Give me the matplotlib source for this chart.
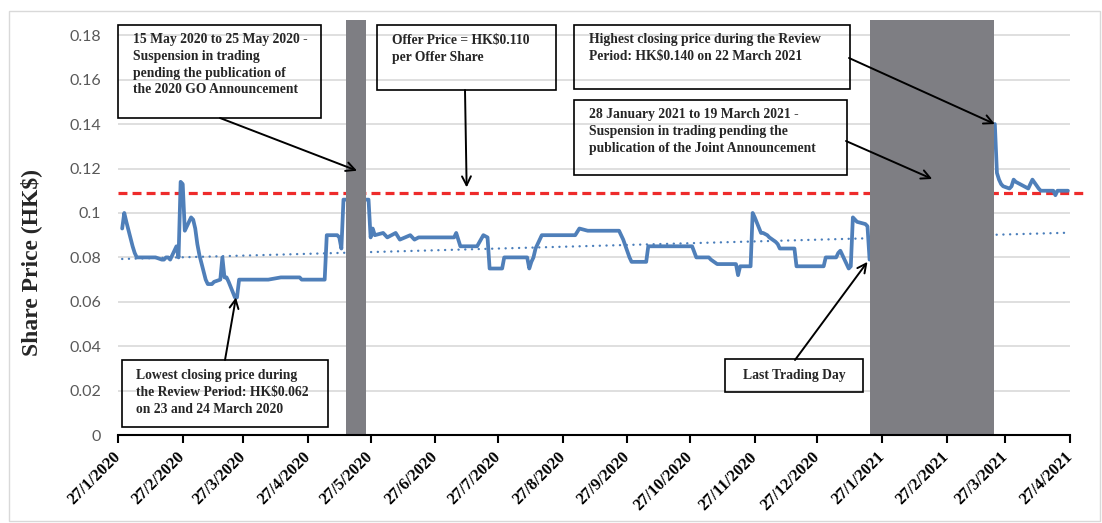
import matplotlib
matplotlib.use('Agg')
import matplotlib.pyplot as plt
from matplotlib.patches import Rectangle
import pandas as pd

W, H = 1102, 523

# ---------------- data ----------------
price_dates = [
    '2020-01-29', '2020-01-30', '2020-01-31', '2020-02-03', '2020-02-04', '2020-02-05',
    '2020-02-14', '2020-02-17', '2020-02-18', '2020-02-19', '2020-02-20', '2020-02-21',
    '2020-02-24', '2020-02-25', '2020-02-26', '2020-02-27', '2020-02-28', '2020-03-02',
    '2020-03-03', '2020-03-04', '2020-03-05', '2020-03-06', '2020-03-09', '2020-03-10',
    '2020-03-12', '2020-03-13', '2020-03-16', '2020-03-17', '2020-03-18', '2020-03-19',
    '2020-03-20', '2020-03-23', '2020-03-24', '2020-03-25', '2020-04-08', '2020-04-14',
    '2020-04-23', '2020-04-24', '2020-05-05', '2020-05-06', '2020-05-11', '2020-05-12',
    '2020-05-13', '2020-05-14',
    '2020-05-26', '2020-05-27', '2020-05-28', '2020-05-29', '2020-06-02', '2020-06-04',
    '2020-06-08', '2020-06-10', '2020-06-15', '2020-06-17', '2020-06-19', '2020-07-06',
    '2020-07-07', '2020-07-09', '2020-07-17', '2020-07-20', '2020-07-22', '2020-07-23',
    '2020-07-29', '2020-07-30', '2020-08-10', '2020-08-11', '2020-08-12', '2020-08-13',
    '2020-08-14', '2020-08-17', '2020-09-02', '2020-09-04', '2020-09-08', '2020-09-23',
    '2020-09-24', '2020-09-25', '2020-09-28', '2020-09-29', '2020-10-06', '2020-10-07',
    '2020-10-28', '2020-10-30', '2020-11-05', '2020-11-06', '2020-11-09', '2020-11-18',
    '2020-11-19', '2020-11-20', '2020-11-25', '2020-11-26', '2020-11-27', '2020-11-30',
    '2020-12-01', '2020-12-03', '2020-12-04', '2020-12-07', '2020-12-08', '2020-12-09',
    '2020-12-16', '2020-12-17', '2020-12-30', '2020-12-31', '2021-01-05', '2021-01-06',
    '2021-01-07', '2021-01-08', '2021-01-11', '2021-01-12', '2021-01-13', '2021-01-15',
    '2021-01-19', '2021-01-20', '2021-01-21',
    '2021-03-22', '2021-03-23', '2021-03-24', '2021-03-25', '2021-03-26', '2021-03-29',
    '2021-03-30', '2021-03-31', '2021-04-01', '2021-04-07', '2021-04-08', '2021-04-09',
    '2021-04-12', '2021-04-13', '2021-04-19', '2021-04-20', '2021-04-21', '2021-04-26',
]
price_values = [
    0.093, 0.100, 0.096, 0.085, 0.082, 0.080,
    0.080, 0.079, 0.079, 0.080, 0.080, 0.079,
    0.085, 0.080, 0.114, 0.113, 0.092, 0.098,
    0.097, 0.093, 0.086, 0.081, 0.070, 0.068,
    0.068, 0.069, 0.070, 0.080, 0.071, 0.071,
    0.069, 0.062, 0.062, 0.070, 0.070, 0.071,
    0.071, 0.070, 0.070, 0.090, 0.090, 0.089,
    0.084, 0.106,
    0.106, 0.089, 0.093, 0.090, 0.091, 0.089,
    0.091, 0.088, 0.090, 0.088, 0.089, 0.089,
    0.091, 0.085, 0.085, 0.090, 0.089, 0.075,
    0.075, 0.080, 0.080, 0.075, 0.078, 0.080,
    0.084, 0.090, 0.090, 0.093, 0.092, 0.092,
    0.090, 0.088, 0.080, 0.078, 0.078, 0.085,
    0.085, 0.080, 0.080, 0.079, 0.077, 0.077,
    0.072, 0.076, 0.076, 0.100, 0.098, 0.091,
    0.091, 0.090, 0.089, 0.087, 0.086, 0.084,
    0.084, 0.076, 0.076, 0.080, 0.080, 0.082,
    0.083, 0.081, 0.075, 0.076, 0.098, 0.096,
    0.095, 0.094, 0.079,
    0.140, 0.118, 0.115, 0.113, 0.112, 0.111,
    0.112, 0.115, 0.114, 0.111, 0.113, 0.115,
    0.111, 0.110, 0.110, 0.108, 0.110, 0.110,
]
assert len(price_dates) == len(price_values)

trend_values = [0.0793, 0.0911]          # dotted linear trend, start / end
offer_price_line = 0.109                 # red dashed offer price line
suspension_periods = [('2020-05-15 00:00', '2020-05-24 18:00'),
                      ('2021-01-21 05:00', '2021-03-21 12:00')]

x_tick_dates = ['2020-01-27', '2020-02-27', '2020-03-27', '2020-04-27', '2020-05-27',
                '2020-06-27', '2020-07-27', '2020-08-27', '2020-09-27', '2020-10-27',
                '2020-11-27', '2020-12-27', '2021-01-27', '2021-02-27', '2021-03-27',
                '2021-04-27']
x_tick_labels = ['27/1/2020', '27/2/2020', '27/3/2020', '27/4/2020', '27/5/2020',
                 '27/6/2020', '27/7/2020', '27/8/2020', '27/9/2020', '27/10/2020',
                 '27/11/2020', '27/12/2020', '27/1/2021', '27/2/2021', '27/3/2021',
                 '27/4/2021']
y_ticks = [0, 0.02, 0.04, 0.06, 0.08, 0.10, 0.12, 0.14, 0.16, 0.18]
y_tick_labels = ['0', '0.02', '0.04', '0.06', '0.08', '0.1', '0.12', '0.14', '0.16', '0.18']

box_texts = {
    'susp1': '15 May 2020 to 25 May 2020 -\nSuspension in trading\npending the publication of\nthe 2020 GO Announcement',
    'offer': 'Offer Price = HK$0.110\nper Offer Share',
    'high': 'Highest closing price during the Review\nPeriod: HK$0.140 on 22 March 2021',
    'susp2': '28 January 2021 to 19 March 2021 -\nSuspension in trading pending the\npublication of the Joint Announcement',
    'low': 'Lowest closing price during\nthe Review Period: HK$0.062\non 23 and 24 March 2020',
    'last': 'Last Trading Day',
}
# arrow targets (date, price)
arrow_targets = {
    'susp1': ('2020-05-20 12:00', 0.119),
    'offer': ('2020-07-12', 0.1115),
    'high': ('2021-03-22', 0.140),
    'susp2': ('2021-02-20', 0.1153),
    'low': ('2020-03-23 12:00', 0.062),
    'last': ('2021-01-20', 0.078),
}

# ---------------- layout (pixel positions, top-left origin) ----------------
def fx(x):
    return x / W

def fy(y):
    return 1 - y / H

boxes = {  # x0, y0, x1, y1
    'susp1': (118, 25, 321, 118),
    'offer': (377, 25, 556, 90),
    'high': (574, 25, 850, 89),
    'susp2': (574, 100, 847, 175),
    'low': (122, 360, 328, 427),
    'last': (725, 359, 863, 392),
}
text_pos = {
    'susp1': (133, 33),
    'offer': (392, 34),
    'high': (589, 33),
    'susp2': (589, 108),
    'low': (136, 369),
}
arrow_starts = {
    'susp1': (220, 118),
    'offer': (465, 90),
    'high': (849, 58),
    'susp2': (846, 141),
    'low': (225, 360),
    'last': (795, 360),
}

serif = ['Liberation Serif', 'DejaVu Serif']
text_col = '#262626'

fig = plt.figure(figsize=(W / 100, H / 100), dpi=100)
fig.patch.set_facecolor('white')
fig.add_artist(Rectangle((fx(9), fy(521)), fx(1100) - fx(9), fy(11) - fy(521),
                         transform=fig.transFigure, fill=False, edgecolor='#d9d9d9', lw=1))

ax = fig.add_axes([fx(118), fy(435.2), fx(1070) - fx(118), fy(19.6) - fy(435.2)])
ax.set_facecolor('none')

dates = pd.to_datetime(price_dates)
x_start = pd.Timestamp(x_tick_dates[0])
x_end = pd.Timestamp(x_tick_dates[-1])
ax.set_xlim(x_start, x_end)
ax.set_ylim(0, 0.187)

# grid
ax.set_yticks(y_ticks)
ax.set_yticklabels(y_tick_labels, family=['Lato', 'DejaVu Sans'], fontsize=11.5, color='#595959')
ax.yaxis.grid(True, color='#d9d9d9', lw=1.2, zorder=0)
ax.set_axisbelow(True)
ax.tick_params(axis='y', length=0, pad=12)

ax.set_xticks(pd.to_datetime(x_tick_dates))
ax.set_xticklabels(x_tick_labels, rotation=45, ha='right', va='center', rotation_mode='anchor',
                   family=serif, fontweight='bold', fontsize=12, color='black')
ax.tick_params(axis='x', direction='out', length=6, width=1.5, color='black', pad=8)

for s in ['top', 'right', 'left']:
    ax.spines[s].set_visible(False)
ax.spines['bottom'].set_color('black')
ax.spines['bottom'].set_linewidth(1.5)
ax.spines['bottom'].set_zorder(6)

# offer price line
ax.axhline(offer_price_line, xmin=0, xmax=(1083 - 118) / 952, color='#EE2B2B', lw=2.3,
           dashes=(2.8, 1.6), zorder=2, clip_on=False)

# trend line
ax.plot([dates[0], dates[-1]], trend_values, color='#4A7EBB', lw=1.7,
        dashes=(0.05, 2.8), dash_capstyle='round', zorder=2)

# price line
ax.plot(dates, price_values, color='#4F7FB9', lw=2.7, solid_joinstyle='round',
        solid_capstyle='round', zorder=3)

# suspension bars
for s, e in suspension_periods:
    ax.axvspan(pd.Timestamp(s), pd.Timestamp(e), ymin=0, ymax=1, color='#7E7E83', lw=0, zorder=4)

fig.text(fx(31), fy(262), 'Share Price (HK$)', rotation=90, ha='center', va='center',
         family=serif, fontweight='bold', fontsize=17, color=text_col)

# boxes, texts, arrows
for key, (x0, y0, x1, y1) in boxes.items():
    fig.add_artist(Rectangle((fx(x0), fy(y1)), fx(x1) - fx(x0), fy(y0) - fy(y1),
                             transform=fig.transFigure, fill=False, edgecolor='black',
                             lw=1.2, zorder=7))
    if key == 'last':
        fig.text(fx((x0 + x1) / 2), fy((y0 + y1) / 2), box_texts[key], ha='center', va='center',
                 family=serif, fontweight='bold', fontsize=9.8, color=text_col, zorder=8)
    else:
        tx, ty = text_pos[key]
        fig.text(fx(tx), fy(ty), box_texts[key], ha='left', va='top', linespacing=1.38,
                 family=serif, fontweight='bold', fontsize=9.8, color=text_col, zorder=8)
    d, v = arrow_targets[key]
    sx, sy = arrow_starts[key]
    ax.annotate('', xy=(pd.Timestamp(d), v), xycoords='data',
                xytext=(fx(sx), fy(sy)), textcoords='figure fraction',
                arrowprops=dict(arrowstyle='->', color='black', lw=1.4, shrinkA=0, shrinkB=0,
                                mutation_scale=16),
                zorder=8, annotation_clip=False)

fig.savefig('out.png', dpi=100)
